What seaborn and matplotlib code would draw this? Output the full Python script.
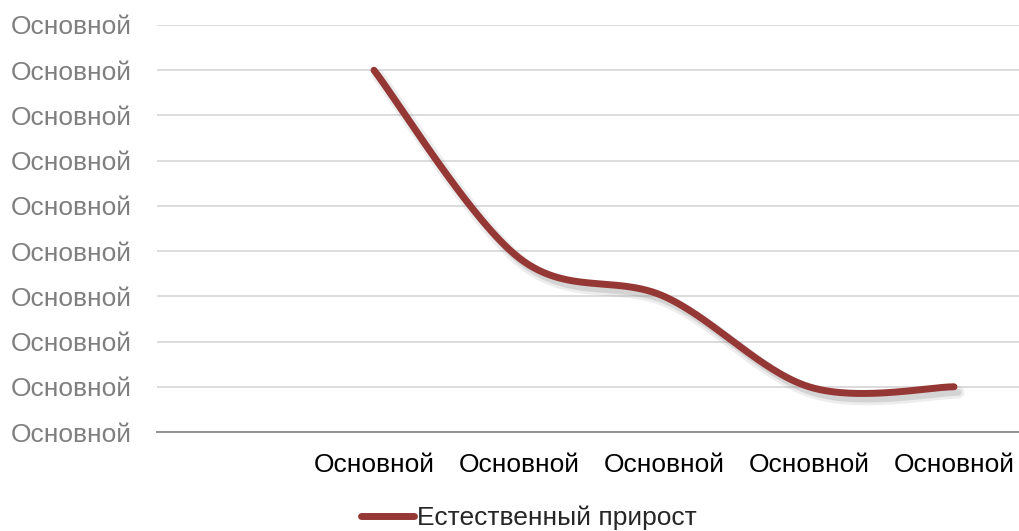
import numpy as np
import matplotlib
matplotlib.use("Agg")
import matplotlib.pyplot as plt
import matplotlib.patheffects as pe
import seaborn as sns

# Categories along the x axis (the first slot carries no label and no value)
categories = ["", "Основной", "Основной", "Основной", "Основной", "Основной"]
values = [np.nan, 8.0, 3.85, 3.0, 1.0, 1.0]
series_name = "Естественный прирост"
y_ticks = list(range(10))
y_tick_labels = ["Основной"] * len(y_ticks)

LINE_COLOR = "#953735"


def smooth_curve(xs, ys, steps=60):
    """Bezier smoothing through the points (Catmull-Rom style control points)."""
    pts = np.column_stack([xs, ys])
    n = len(pts)
    out = []
    for i in range(n - 1):
        p0 = pts[max(i - 1, 0)]
        p1 = pts[i]
        p2 = pts[i + 1]
        p3 = pts[min(i + 2, n - 1)]
        c1 = p1 + (p2 - p0) / 6.0
        c2 = p2 - (p3 - p1) / 6.0
        t = np.linspace(0, 1, steps)[:, None]
        seg = ((1 - t) ** 3) * p1 + 3 * ((1 - t) ** 2) * t * c1 + 3 * (1 - t) * t ** 2 * c2 + t ** 3 * p2
        out.append(seg if i == 0 else seg[1:])
    return np.vstack(out)


sns.set_theme(style="white")
plt.rcParams["font.family"] = ["Liberation Sans", "DejaVu Sans"]

W, H = 1019, 531
fig = plt.figure(figsize=(W / 100, H / 100), dpi=100)
left_px, right_px, top_px, bottom_px = 156.5, 1026.5, 25, 432
ax = fig.add_axes([left_px / W, 1 - bottom_px / H,
                   (right_px - left_px) / W, (bottom_px - top_px) / H])

x_idx = np.arange(len(categories), dtype=float)
mask = ~np.isnan(values)
curve = smooth_curve(x_idx[mask], np.array(values)[mask])

sns.lineplot(x=curve[:, 0], y=curve[:, 1], ax=ax, color=LINE_COLOR, linewidth=5,
             sort=False, estimator=None, label=series_name,
             solid_capstyle="round", solid_joinstyle="round",
             path_effects=[pe.SimpleLineShadow(offset=(3, -4), shadow_color="#8a8a8a", alpha=0.15, linewidth=9),
                           pe.SimpleLineShadow(offset=(3, -4), shadow_color="#8a8a8a", alpha=0.25, linewidth=5),
                           pe.Normal()])

ax.set_xlim(-0.5, len(categories) - 0.5)
ax.set_ylim(0, 9)
ax.set_xticks(x_idx)
ax.set_xticklabels(categories)
ax.set_yticks(y_ticks)
ax.set_yticklabels(y_tick_labels)

ax.yaxis.grid(True, color="#d9d9d9", linewidth=1.3)
ax.xaxis.grid(False)
for side in ("left", "right", "top"):
    ax.spines[side].set_visible(False)
ax.spines["bottom"].set_color("#898989")
ax.spines["bottom"].set_linewidth(1.3)

ax.tick_params(axis="y", length=0, pad=18, labelsize=19, labelcolor="#7f7f7f")
ax.tick_params(axis="x", length=0, pad=15, labelsize=19, labelcolor="#000000")

ax.get_legend().remove()
handles, labels = ax.get_legend_handles_labels()
leg = fig.legend(handles, labels, loc="center", bbox_to_anchor=(529 / W, 1 - 518 / H),
                 frameon=False, fontsize=19, handlelength=2.0, handletextpad=0.15,
                 borderaxespad=0, borderpad=0)
for line in leg.get_lines():
    line.set_path_effects([])
    line.set_linewidth(5)

fig.savefig("out.png", dpi=100)
